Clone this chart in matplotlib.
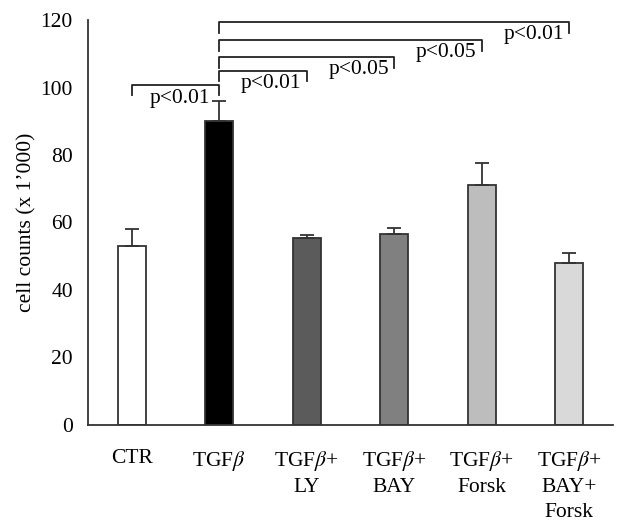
import matplotlib.pyplot as plt

plt.rcParams['font.family'] = ['Liberation Serif', 'DejaVu Serif']
plt.rcParams['mathtext.fontset'] = 'stix'

labels = ['CTR', 'TGF$\\beta$', 'TGF$\\beta$+\nLY', 'TGF$\\beta$+\nBAY',
          'TGF$\\beta$+\nForsk', 'TGF$\\beta$+\nBAY+\nForsk']
means = [53, 90, 55.5, 56.5, 71, 48]
errs = [5, 6, 0.8, 2, 6.5, 3]
colors = ['white', 'black', '#5b5b5b', '#808080', '#bdbdbd', '#d9d9d9']

# significance brackets: (left bar, right bar, height, text)
pairs = [(0, 1, 100.8, 'p<0.01'),
         (1, 2, 105, 'p<0.01'),
         (1, 3, 109, 'p<0.05'),
         (1, 4, 114, 'p<0.05'),
         (1, 5, 119.3, 'p<0.01')]

fs = 15.5
fig = plt.figure(figsize=(6.27, 5.24), dpi=100)
ax = fig.add_axes([0.1404, 0.189, 0.8373, 0.7728])

x = range(len(means))
ax.bar(x, means, width=0.32, color=colors, edgecolor='#333333', linewidth=1.3, zorder=2)
ax.errorbar(x, means, yerr=[[0] * len(errs), errs], fmt='none', ecolor='#333333',
            elinewidth=1.3, capsize=5, capthick=1.3, zorder=3)

for i, (a, b, h, txt) in enumerate(pairs):
    drop = 3 if i == 0 else 3.2
    ax.plot([a, a, b, b], [h - drop, h, h, h - drop], color='#222222', lw=1.3,
            clip_on=False, zorder=4)
    if i == 0:
        ax.text(b - 0.1, h - 1.3, txt, ha='right', va='top', fontsize=fs)
    else:
        ax.text(b - 0.06, h - 0.9, txt, ha='right', va='top', fontsize=fs)

ax.set_xlim(-0.5, 5.5)
ax.set_ylim(0, 120)
ax.set_yticks(range(0, 121, 20))
ax.set_xticks(list(x))
ax.set_xticklabels(labels, fontsize=fs, linespacing=1.4, va='top')
ax.tick_params(axis='both', length=0, labelsize=fs)
ax.tick_params(axis='x', pad=17)
ax.tick_params(axis='y', pad=11)
ax.set_ylabel('cell counts (x 1’000)', fontsize=fs, labelpad=3)
for s in ['top', 'right']:
    ax.spines[s].set_visible(False)
for s in ['left', 'bottom']:
    ax.spines[s].set_linewidth(1.3)
    ax.spines[s].set_color('#333333')

fig.savefig('out.png', dpi=100)
